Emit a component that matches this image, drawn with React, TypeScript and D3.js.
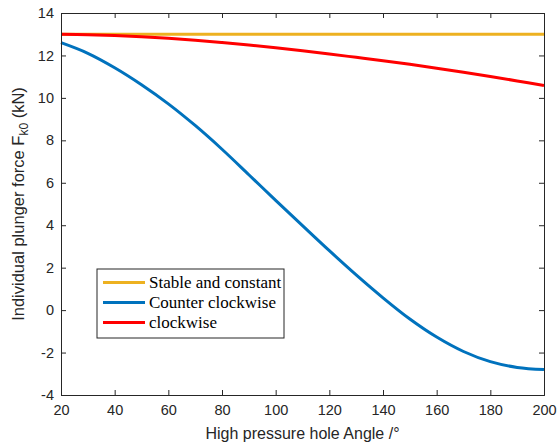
import React, { useEffect, useRef } from "react";
import * as d3 from "d3";

// angles (degrees)
const angles = [20, 30, 40, 50, 60, 70, 80, 90, 100, 110, 120, 130, 140, 150, 160, 170, 180, 190, 200];

// individual plunger force (kN)
const stableValues = [13, 13, 13, 13, 13, 13, 13, 13, 13, 13, 13, 13, 13, 13, 13, 13, 13, 13, 13];
const counterClockwiseValues = [12.6, 12.1, 11.42, 10.62, 9.72, 8.7, 7.58, 6.38, 5.17, 3.98, 2.8, 1.66, 0.58, -0.42, -1.27, -1.95, -2.43, -2.7, -2.8];
const clockwiseValues = [13.0, 12.98, 12.94, 12.88, 12.81, 12.72, 12.61, 12.49, 12.36, 12.22, 12.07, 11.91, 11.75, 11.58, 11.4, 11.21, 11.01, 10.8, 10.58];

const xTicks = [20, 40, 60, 80, 100, 120, 140, 160, 180, 200];
const yTicks = [-4, -2, 0, 2, 4, 6, 8, 10, 12, 14];

const seriesNames = ["Stable and constant", "Counter clockwise", "clockwise"];
const seriesColors = ["#EDB120", "#0072BD", "#FF0000"];

const App = () => {
  const ref = useRef<SVGSVGElement>(null);

  useEffect(() => {
    const svg = d3.select(ref.current);
    svg.selectAll("*").remove();

    const left = 61, right = 544, top = 13, bottom = 395;
    const axisColor = "#262626";

    const x = d3.scaleLinear().domain([20, 200]).range([left, right]);
    const y = d3.scaleLinear().domain([-4, 14]).range([bottom, top]);

    svg.append("rect")
      .attr("x", left).attr("y", top)
      .attr("width", right - left).attr("height", bottom - top)
      .attr("fill", "#fff");

    // data lines
    const series = [stableValues, counterClockwiseValues, clockwiseValues];
    const line = d3.line<number>()
      .x((d, i) => x(angles[i]))
      .y((d) => y(d))
      .curve(d3.curveCatmullRom);

    series.forEach((vals, i) => {
      svg.append("path")
        .datum(vals)
        .attr("d", line)
        .attr("fill", "none")
        .attr("stroke", seriesColors[i])
        .attr("stroke-width", 3);
    });

    // axes (box with inward ticks)
    const tickLen = 5;
    const fmt = (d: any) => String(d);
    const gBottom = svg.append("g").attr("transform", `translate(0,${bottom})`)
      .call(d3.axisBottom(x).tickValues(xTicks).tickSize(-tickLen).tickPadding(10).tickFormat(fmt));
    const gTop = svg.append("g").attr("transform", `translate(0,${top})`)
      .call(d3.axisTop(x).tickValues(xTicks).tickSize(-tickLen).tickFormat(() => ""));
    const gLeft = svg.append("g").attr("transform", `translate(${left},0)`)
      .call(d3.axisLeft(y).tickValues(yTicks).tickSize(-tickLen).tickPadding(7).tickFormat(fmt));
    const gRight = svg.append("g").attr("transform", `translate(${right},0)`)
      .call(d3.axisRight(y).tickValues(yTicks).tickSize(-tickLen).tickFormat(() => ""));

    [gBottom, gTop, gLeft, gRight].forEach((g) => {
      g.select(".domain").attr("stroke", axisColor).attr("stroke-width", 1);
      g.selectAll(".tick line").attr("stroke", axisColor);
      g.selectAll("text")
        .attr("fill", axisColor)
        .style("font-family", "'Liberation Sans', Arial, sans-serif")
        .style("font-size", "14.5px");
    });

    // axis titles
    svg.append("text")
      .attr("x", (left + right) / 2)
      .attr("y", 439)
      .attr("text-anchor", "middle")
      .attr("fill", axisColor)
      .style("font-family", "'Liberation Sans', Arial, sans-serif")
      .style("font-size", "16px")
      .text("High pressure hole Angle /°");

    const yTitle = svg.append("text")
      .attr("transform", `translate(24,${(top + bottom) / 2}) rotate(-90)`)
      .attr("text-anchor", "middle")
      .attr("fill", axisColor)
      .style("font-family", "'Liberation Sans', Arial, sans-serif")
      .style("font-size", "16.5px");
    yTitle.append("tspan").text("Individual plunger force F");
    yTitle.append("tspan").attr("dy", 4).style("font-size", "12px").text("k0");
    yTitle.append("tspan").attr("dy", -4).text(" (kN)");

    // legend
    const legend = svg.append("g").attr("transform", "translate(97,269)");
    legend.append("rect")
      .attr("x", 0).attr("y", 0)
      .attr("width", 187).attr("height", 69)
      .attr("fill", "#fff")
      .attr("stroke", axisColor)
      .attr("stroke-width", 1);

    seriesNames.forEach((name, i) => {
      const ly = 13.5 + i * 20;
      legend.append("line")
        .attr("x1", 6).attr("x2", 48)
        .attr("y1", ly).attr("y2", ly)
        .attr("stroke", seriesColors[i])
        .attr("stroke-width", 3);
      legend.append("text")
        .attr("x", 52)
        .attr("y", ly + 5.5)
        .attr("fill", "#000")
        .style("font-family", "'Liberation Serif', 'Times New Roman', serif")
        .style("font-size", "17px")
        .text(name);
    });
  }, []);

  return (
    <svg ref={ref} width={558} height={443} style={{ position: "absolute", left: 0, top: 0, background: "#fff" }} />
  );
};

export default App;
